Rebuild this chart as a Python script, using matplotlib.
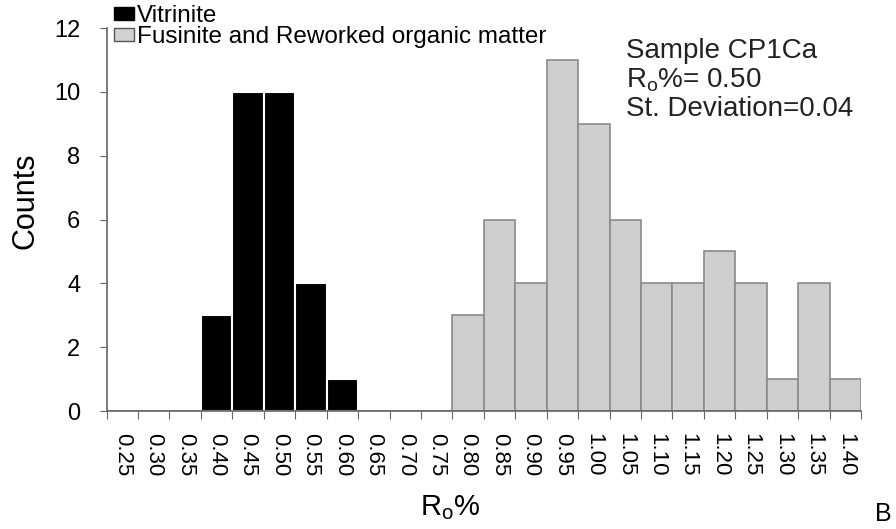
import numpy as np
import matplotlib.pyplot as plt
from matplotlib.patches import Patch

plt.rcParams['font.family'] = ['Liberation Sans', 'DejaVu Sans']

# bins (Ro %)
bins = ["0.25", "0.30", "0.35", "0.40", "0.45", "0.50", "0.55", "0.60",
        "0.65", "0.70", "0.75", "0.80", "0.85", "0.90", "0.95", "1.00",
        "1.05", "1.10", "1.15", "1.20", "1.25", "1.30", "1.35", "1.40"]

vitrinite = [0, 0, 0, 3, 10, 10, 4, 1,
             0, 0, 0, 0, 0, 0, 0, 0,
             0, 0, 0, 0, 0, 0, 0, 0]

fusinite = [0, 0, 0, 0, 0, 0, 0, 0,
            0, 0, 0, 3, 6, 4, 11, 9,
            6, 4, 4, 5, 4, 1, 4, 1]

x = np.arange(len(bins))

fig = plt.figure(figsize=(8.96, 5.29), dpi=100)
ax = fig.add_axes([0.119, 0.223, 0.842, 0.724])

ax.bar(x, vitrinite, width=1.0, color="black", edgecolor="white", linewidth=1.5)
ax.bar(x, fusinite, width=1.0, color="#cecece", edgecolor="#8a8a8a", linewidth=1.2)

ax.set_xlim(-0.5, len(bins) - 0.5)
ax.set_ylim(0, 12)
ax.set_yticks([0, 2, 4, 6, 8, 10, 12])

# ticks on bin edges, labels at bin centres
ax.set_xticks(np.arange(len(bins) + 1) - 0.5)
ax.set_xticklabels([])
ax.set_xticks(x, minor=True)
ax.set_xticklabels(bins, minor=True, rotation=-90, fontsize=16)
ax.tick_params(axis="x", which="minor", length=0, pad=16)
ax.tick_params(axis="x", which="major", length=6, color="#666666")
ax.tick_params(axis="y", labelsize=17, length=5, color="#666666", pad=14)

for s in ["top", "right"]:
    ax.spines[s].set_visible(False)
for s in ["left", "bottom"]:
    ax.spines[s].set_color("#666666")
    ax.spines[s].set_linewidth(1.2)

ax.set_ylabel("Counts", fontsize=22)
ax.yaxis.set_label_coords(-0.088, 0.548)
ax.set_xlabel("R$_\\mathregular{o}$%", fontsize=21)
ax.xaxis.set_label_coords(0.455, -0.215)

handles = [Patch(facecolor="black", edgecolor="black"),
           Patch(facecolor="#d2d2d2", edgecolor="#555555")]
ax.legend(handles, ["Vitrinite", "Fusinite and Reworked organic matter"],
          loc="upper left", bbox_to_anchor=(0.01, 1.06), frameon=False,
          fontsize=17.5, handlelength=0.8, handleheight=0.4,
          handletextpad=0.15, labelspacing=-0.04, borderaxespad=0.0,
          borderpad=0.0)

ax.text(0.688, 0.975, "Sample CP1Ca\nR$_\\mathregular{o}$%= 0.50\nSt. Deviation=0.04",
        transform=ax.transAxes, fontsize=20, va="top", ha="left",
        linespacing=1.12, color="#222222")

fig.text(0.995, 0.005, "B", fontsize=18, ha="right", va="bottom")

fig.savefig("out.png", dpi=100)
